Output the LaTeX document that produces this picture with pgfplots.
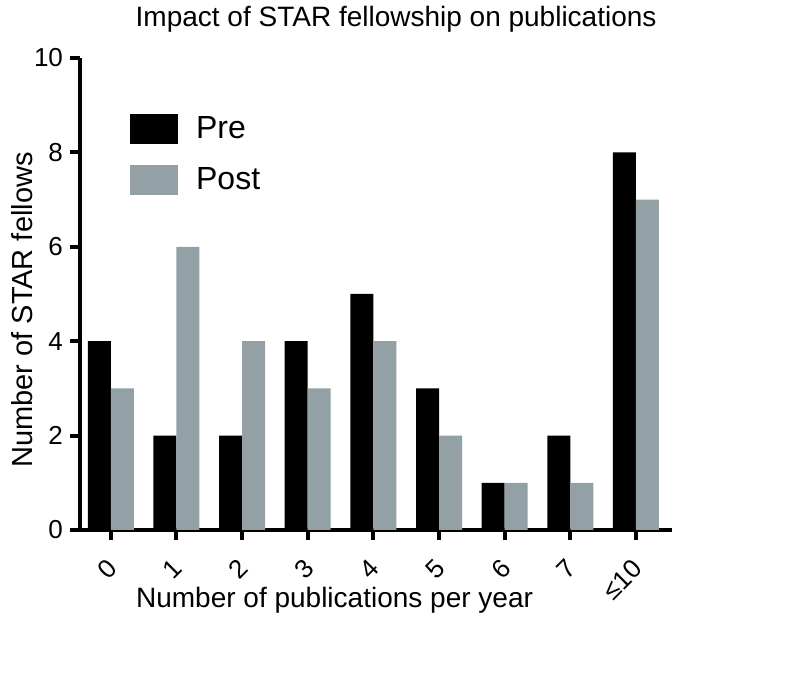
\documentclass[border=0pt]{standalone}
\usepackage{pgfplots}
\pgfplotsset{compat=1.18}
\usepackage{fontspec}
\setmainfont{Liberation Sans}
\definecolor{postgray}{RGB}{147,160,165}
\begin{document}
\begin{tikzpicture}
\path[use as bounding box] (-40pt,-71.5pt) rectangle (357pt,265pt);
\begin{axis}[
    scale only axis,
    width=296pt, height=236pt,
    ybar=0pt, bar width=11.5pt,
    xmin=-0.47, xmax=8.55,
    ymin=0, ymax=10,
    ytick={0,2,4,6,8,10},
    xtick={0,1,2,3,4,5,6,7,8},
    xticklabels={0,1,2,3,4,5,6,7,≤10},
    axis lines=left,
    axis line style={line width=2pt, -},
    every tick/.style={line width=2pt, black},
    tick align=outside, major tick length=5pt,
    tick label style={font=\fontsize{13}{15}\selectfont},
    /pgf/number format/assume math mode=true,
    x tick label style={rotate=45, anchor=north east, xshift=-4.5pt, yshift=-1pt},
    title={Impact of STAR fellowship on publications},
    title style={font=\fontsize{14}{16}\selectfont, at={(axis description cs:0.534,1)}, anchor=south, yshift=3.5pt},
    xlabel={Number of publications per year},
    xlabel style={font=\fontsize{14}{16}\selectfont, at={(axis description cs:0.43,0)}, anchor=center, yshift=-35pt},
    ylabel={Number of STAR fellows},
    ylabel style={font=\fontsize{14.5}{16}\selectfont, at={(axis description cs:-0.098,0.466)}, anchor=center},
    legend style={draw=none, fill=none, at={(axis description cs:0.084,0.885)}, anchor=north west,
        font=\fontsize{16}{18}\selectfont, row sep=9pt, inner sep=0pt},
    legend cell align=left,
    legend image code/.code={\fill[#1] (0pt,-7.5pt) rectangle (24pt,7.5pt);},
]
\addplot[fill=black, draw=none] coordinates {
    (0,4) (1,2) (2,2) (3,4) (4,5) (5,3) (6,1) (7,2) (8,8)
};
\addlegendentry{\hspace{7pt}Pre}
\addplot[fill=postgray, draw=none] coordinates {
    (0,3) (1,6) (2,4) (3,3) (4,4) (5,2) (6,1) (7,1) (8,7)
};
\addlegendentry{\hspace{7pt}Post}
\end{axis}
\end{tikzpicture}
\end{document}
